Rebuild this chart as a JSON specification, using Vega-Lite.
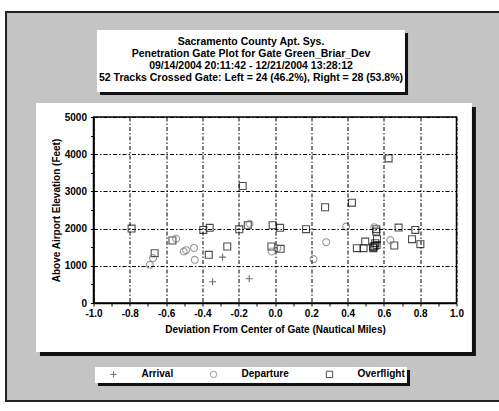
{
  "$schema": "https://vega.github.io/schema/vega-lite/v6.json",
  "autosize": "none",
  "width": 363,
  "height": 186,
  "padding": {"left": 93.5, "top": 117, "right": 42.5, "bottom": 108},
  "background": "white",
  "title": {
    "text": ["Sacramento County Apt. Sys.", "Penetration Gate Plot for Gate Green_Briar_Dev", "09/14/2004 20:11:42 - 12/21/2004 13:28:12", "52 Tracks Crossed Gate:  Left = 24 (46.2%), Right = 28 (53.8%)"],
    "frame": "group",
    "anchor": "middle",
    "dx": -24,
    "offset": -73,
    "font": "Liberation Sans Narrow, Liberation Sans",
    "fontSize": 10.5,
    "fontWeight": "bold",
    "lineHeight": 12,
    "color": "black",
    "zindex": 2
  },
  "config": {
    "view": {"stroke": null},
    "axis": {"zindex": 1, "grid": true, "labelFont": "Liberation Sans", "labelFontSize": 10, "labelFontWeight": "bold", "labelColor": "black", "titleFont": "Liberation Sans", "titleFontSize": 10, "titleFontWeight": "bold", "titleColor": "black", "domainColor": "black", "domainWidth": 1.5, "tickColor": "black", "gridColor": "black", "gridDash": [4, 2, 1.5, 2], "gridWidth": 1}
  },
  "data": {"values": [
    {"x": -0.79, "y": 2000, "type": "Overflight"},
    {"x": -0.663, "y": 1340, "type": "Overflight"},
    {"x": -0.565, "y": 1680, "type": "Overflight"},
    {"x": -0.395, "y": 1965, "type": "Overflight"},
    {"x": -0.36, "y": 2020, "type": "Overflight"},
    {"x": -0.365, "y": 1295, "type": "Overflight"},
    {"x": -0.263, "y": 1518, "type": "Overflight"},
    {"x": -0.197, "y": 1980, "type": "Overflight"},
    {"x": -0.178, "y": 3145, "type": "Overflight"},
    {"x": -0.15, "y": 2090, "type": "Overflight"},
    {"x": -0.013, "y": 2090, "type": "Overflight"},
    {"x": -0.02, "y": 1518, "type": "Overflight"},
    {"x": -0.69, "y": 1027, "type": "Departure"},
    {"x": -0.672, "y": 1206, "type": "Departure"},
    {"x": -0.545, "y": 1730, "type": "Departure"},
    {"x": -0.503, "y": 1384, "type": "Departure"},
    {"x": -0.49, "y": 1420, "type": "Departure"},
    {"x": -0.446, "y": 1480, "type": "Departure"},
    {"x": -0.442, "y": 1160, "type": "Departure"},
    {"x": -0.14, "y": 2130, "type": "Departure"},
    {"x": -0.018, "y": 1384, "type": "Departure"},
    {"x": -0.344, "y": 570, "type": "Arrival"},
    {"x": -0.289, "y": 1233, "type": "Arrival"},
    {"x": -0.142, "y": 651, "type": "Arrival"},
    {"x": 0.028, "y": 2020, "type": "Overflight"},
    {"x": 0.031, "y": 1456, "type": "Overflight"},
    {"x": 0.171, "y": 1984, "type": "Overflight"},
    {"x": 0.276, "y": 2574, "type": "Overflight"},
    {"x": 0.424, "y": 2697, "type": "Overflight"},
    {"x": 0.451, "y": 1474, "type": "Overflight"},
    {"x": 0.488, "y": 1474, "type": "Overflight"},
    {"x": 0.497, "y": 1652, "type": "Overflight"},
    {"x": 0.543, "y": 1474, "type": "Overflight"},
    {"x": 0.548, "y": 1530, "type": "Overflight"},
    {"x": 0.552, "y": 1608, "type": "Overflight"},
    {"x": 0.562, "y": 1716, "type": "Overflight"},
    {"x": 0.558, "y": 1920, "type": "Overflight"},
    {"x": 0.558, "y": 1984, "type": "Overflight"},
    {"x": 0.626, "y": 3887, "type": "Overflight"},
    {"x": 0.657, "y": 1545, "type": "Overflight"},
    {"x": 0.681, "y": 2027, "type": "Overflight"},
    {"x": 0.773, "y": 1965, "type": "Overflight"},
    {"x": 0.755, "y": 1716, "type": "Overflight"},
    {"x": 0.801, "y": 1581, "type": "Overflight"},
    {"x": 0.54, "y": 1500, "type": "Overflight"},
    {"x": 0.56, "y": 1560, "type": "Overflight"},
    {"x": 0.013, "y": 1474, "type": "Departure"},
    {"x": 0.212, "y": 1180, "type": "Departure"},
    {"x": 0.282, "y": 1635, "type": "Departure"},
    {"x": 0.392, "y": 2054, "type": "Departure"},
    {"x": 0.547, "y": 2038, "type": "Departure"},
    {"x": 0.635, "y": 1690, "type": "Departure"}
  ]},
  "layer": [
    {
      "data": {"values": [{}]},
      "mark": {"type": "rect", "fill": "#c4c4c4", "stroke": "#222", "strokeWidth": 2},
      "encoding": {
        "x": {"datum": -1.482, "type": "quantitative", "scale": {"domain": [-1, 1], "nice": false, "zero": false},
          "title": "Deviation From Center of Gate (Nautical Miles)",
          "axis": {
            "zindex": 1,
            "grid": true,
            "tickCount": 40,
            "values": [-1, -0.9, -0.8, -0.7, -0.6, -0.5, -0.4, -0.3, -0.2, -0.1, 0, 0.1, 0.2, 0.3, 0.4, 0.5, 0.6, 0.7, 0.8, 0.9, 1],
            "labelExpr": "abs(round(datum.value*10)) % 2 == 0 ? (datum.value < 0 ? '-' : '') + format(abs(datum.value), '.1f') : ''",
            "gridOpacity": {"condition": {"test": "abs(round(datum.value*10)) % 2 == 0", "value": 1}, "value": 0},
            "tickSize": 3,
            "labelPadding": 2,
            "titlePadding": 6,
            "labelFlush": false,
            "labelOverlap": false
          }},
        "x2": {"datum": 1.267},
        "y": {"datum": 7823, "type": "quantitative", "scale": {"domain": [0, 5000], "nice": false, "zero": false},
          "title": "Above Airport Elevation (Feet)",
          "axis": {
            "zindex": 1,
            "grid": true,
            "tickCount": 40,
            "values": [0, 500, 1000, 1500, 2000, 2500, 3000, 3500, 4000, 4500, 5000],
            "labelExpr": "round(datum.value/500) % 2 == 0 ? format(datum.value, 'd') : ''",
            "gridOpacity": {"condition": {"test": "round(datum.value/500) % 2 == 0", "value": 1}, "value": 0},
            "tickSize": 3,
            "labelPadding": 4,
            "titlePadding": 3,
            "labelFlush": false,
            "labelOverlap": false
          }},
        "y2": {"datum": -2634}
      }
    },
    {
      "data": {"values": [{}]},
      "mark": {"type": "rect", "fill": "#111"},
      "encoding": {"x": {"datum": -1.295, "type": "quantitative"}, "x2": {"datum": 1.107}, "y": {"datum": 5269, "type": "quantitative"}, "y2": {"datum": -1425}}
    },
    {
      "data": {"values": [{}]},
      "mark": {"type": "rect", "fill": "white"},
      "encoding": {"x": {"datum": -1.317, "type": "quantitative"}, "x2": {"datum": 1.085}, "y": {"datum": 5376, "type": "quantitative"}, "y2": {"datum": -1317}}
    },
    {
      "data": {"values": [{}]},
      "mark": {"type": "rect", "fill": "#111"},
      "encoding": {"x": {"datum": -0.964, "type": "quantitative"}, "x2": {"datum": 0.733}, "y": {"datum": 7258, "type": "quantitative"}, "y2": {"datum": 5591}}
    },
    {
      "data": {"values": [{}]},
      "mark": {"type": "rect", "fill": "white"},
      "encoding": {"x": {"datum": -0.981, "type": "quantitative"}, "x2": {"datum": 0.716}, "y": {"datum": 7339, "type": "quantitative"}, "y2": {"datum": 5672}}
    },
    {
      "data": {"values": [{}]},
      "mark": {"type": "rect", "fill": "#111"},
      "encoding": {"x": {"datum": -0.975, "type": "quantitative"}, "x2": {"datum": 0.744}, "y": {"datum": -1801, "type": "quantitative"}, "y2": {"datum": -2231}}
    },
    {
      "data": {"values": [{}]},
      "mark": {"type": "rect", "fill": "white"},
      "encoding": {"x": {"datum": -0.992, "type": "quantitative"}, "x2": {"datum": 0.727}, "y": {"datum": -1720, "type": "quantitative"}, "y2": {"datum": -2151}}
    },
    {
      "data": {"values": [{}]},
      "mark": {"type": "rect", "fill": null, "stroke": "black", "strokeWidth": 1.5},
      "encoding": {"x": {"datum": -1, "type": "quantitative"}, "x2": {"datum": 1}, "y": {"datum": 0, "type": "quantitative"}, "y2": {"datum": 5000}}
    },
    {
      "mark": {"type": "point", "filled": false, "strokeWidth": 1.1, "size": 48},
      "encoding": {
        "x": {"field": "x", "type": "quantitative", "title": "Deviation From Center of Gate (Nautical Miles)"},
        "y": {"field": "y", "type": "quantitative", "title": "Above Airport Elevation (Feet)"},
        "shape": {
          "field": "type", "type": "nominal",
          "scale": {"domain": ["Arrival", "Departure", "Overflight"], "range": ["M-1,0L1,0M0,-1L0,1", "circle", "square"]},
          "legend": {
            "title": null,
            "orient": "none",
            "direction": "horizontal",
            "legendX": 15,
            "legendY": 252,
            "padding": 0,
            "labelFont": "Liberation Sans",
            "labelFontSize": 10,
            "labelFontWeight": "bold",
            "labelColor": "black",
            "labelOffset": 23,
            "columnPadding": 34,
            "symbolSize": 40,
            "symbolStrokeWidth": 1,
            "symbolFillColor": "transparent"
          }
        },
        "color": {
          "field": "type", "type": "nominal",
          "scale": {"domain": ["Arrival", "Departure", "Overflight"], "range": ["#333333", "#707070", "#000000"]}
        }
      }
    }
  ]
}
